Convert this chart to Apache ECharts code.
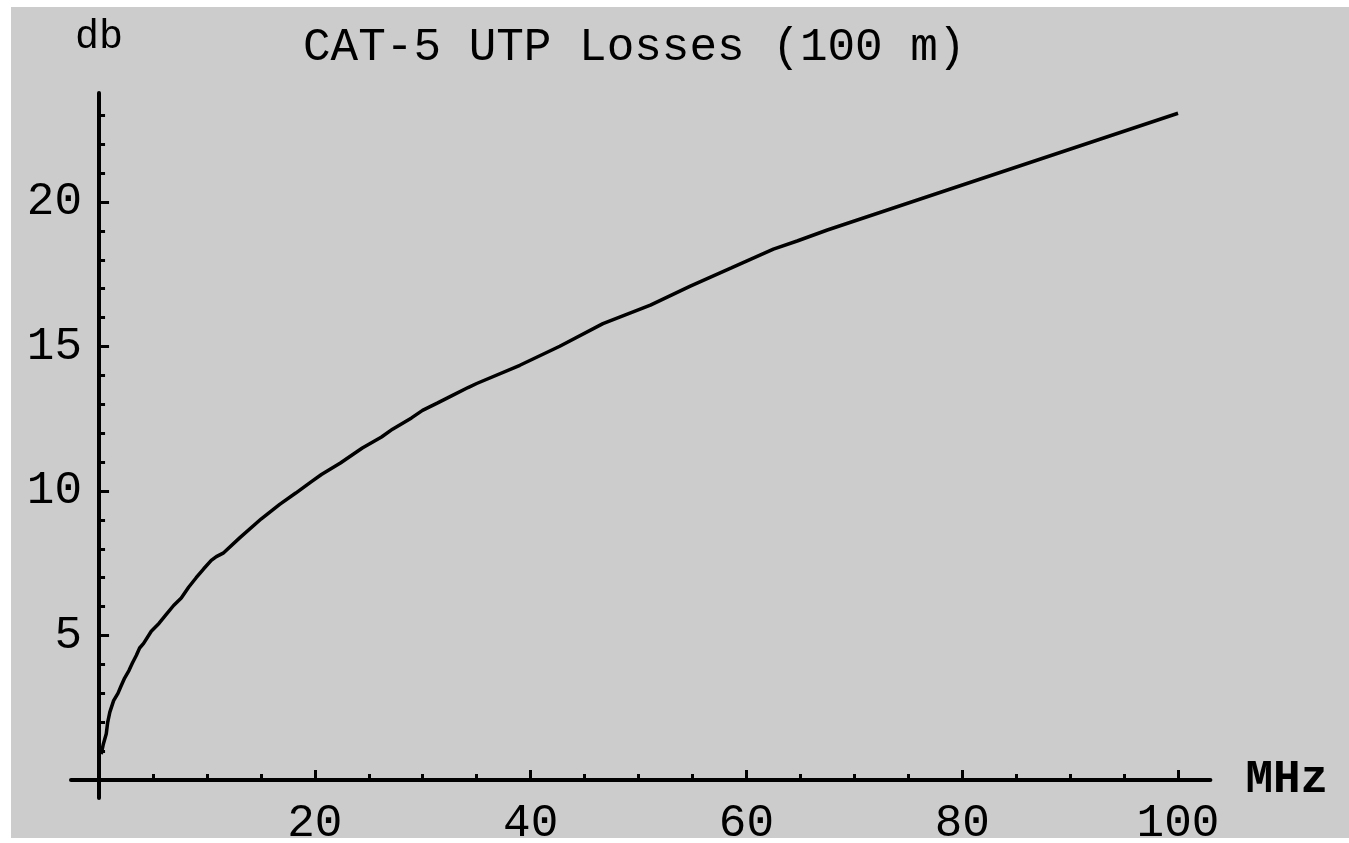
<!DOCTYPE html>
<html>
<head>
<meta charset="utf-8">
<script src="https://cdn.jsdelivr.net/npm/echarts@6/dist/echarts.min.js"></script>
<style>
  html, body { margin: 0; padding: 0; background: #ffffff; width: 1349px; height: 843px; overflow: hidden; }
  #chart { position: absolute; left: 11px; top: 7px; width: 1338px; height: 831px; }
</style>
</head>
<body>
<div id="chart"></div>
<script>
// Data
const freqMHz = [0.2, 0.4, 0.67, 0.8, 1.0, 1.35, 1.75, 2.06, 2.37, 2.77, 3.08, 3.45, 3.76, 4.13, 4.84, 5.55, 6.23, 6.91, 7.62, 8.3, 9.0, 9.7, 10.4, 10.87, 11.5, 13.03, 15.04, 16.74, 18.23, 19.62, 20.61, 22.37, 24.4, 26.18, 27.2, 28.96, 29.98, 31.34, 32.76, 34.2, 35.0, 39.0, 42.7, 46.7, 51.1, 54.8, 58.6, 62.5, 64.7, 67.5, 78.9, 100];
const lossDb = [0.9, 1.25, 1.6, 2.0, 2.35, 2.75, 3.0, 3.27, 3.53, 3.79, 4.04, 4.31, 4.57, 4.73, 5.15, 5.42, 5.73, 6.04, 6.30, 6.67, 7.0, 7.31, 7.6, 7.73, 7.85, 8.38, 9.04, 9.54, 9.93, 10.31, 10.57, 10.97, 11.49, 11.87, 12.14, 12.53, 12.79, 13.04, 13.31, 13.58, 13.72, 14.35, 15.01, 15.79, 16.43, 17.09, 17.72, 18.37, 18.65, 19.03, 20.45, 23.07];
const xMajorTicks = [20, 40, 60, 80, 100];
const xMinorTicks = [5, 10, 15, 25, 30, 35, 45, 50, 55, 65, 70, 75, 85, 90, 95];
const yMajorTicks = [5, 10, 15, 20];
const yMinorTicks = [1, 2, 3, 4, 6, 7, 8, 9, 11, 12, 13, 14, 16, 17, 18, 19, 21, 22, 23];
const titleText = 'CAT-5 UTP Losses (100 m)';
const xName = 'MHz';
const yName = 'db';

const FONT = '"Liberation Mono", "DejaVu Sans Mono", monospace';
const X_MIN = -2.6, X_MAX = 103;
const Y_MIN = -0.62, Y_MAX = 23.77;

const chart = echarts.init(document.getElementById('chart'), null, { renderer: 'canvas' });

const lineData = freqMHz.map((f, i) => [f, lossDb[i]]);

chart.setOption({
  backgroundColor: '#cccccc',
  animation: false,
  title: {
    text: titleText,
    left: 292,
    top: 18,
    padding: 0,
    textStyle: { fontFamily: FONT, fontSize: 46, fontWeight: 'normal', color: '#000' }
  },
  grid: { left: 60, top: 86, width: 1139.4, height: 705, containLabel: false, outerBoundsMode: 'none' },
  xAxis: [
    {
      type: 'value', min: X_MIN, max: X_MAX,
      name: xName, nameLocation: 'end', nameGap: 35,
      nameTextStyle: { fontFamily: FONT, fontSize: 46, fontWeight: 'bold', color: '#000', padding: [0, 0, 8, 0] },
      axisLine: { show: true, onZero: true, onZeroAxisIndex: 0, lineStyle: { color: '#000', width: 4 } },
      axisTick: { show: true, inside: true, length: 10, customValues: xMajorTicks, lineStyle: { color: '#000', width: 3 } },
      axisLabel: { show: true, customValues: xMajorTicks, margin: 3, fontFamily: FONT, fontSize: 46, color: '#000' },
      splitLine: { show: false }
    },
    {
      type: 'value', min: X_MIN, max: X_MAX, position: 'bottom',
      axisLine: { show: false, onZero: true, onZeroAxisIndex: 0 },
      axisTick: { show: true, inside: true, length: 6, customValues: xMinorTicks, lineStyle: { color: '#000', width: 3 } },
      axisLabel: { show: false },
      splitLine: { show: false }
    }
  ],
  yAxis: [
    {
      type: 'value', min: Y_MIN, max: Y_MAX,
      name: yName, nameLocation: 'end', nameGap: 36,
      nameTextStyle: { fontFamily: FONT, fontSize: 40, fontWeight: 'normal', color: '#000', align: 'center' },
      axisLine: { show: true, onZero: true, onZeroAxisIndex: 0, lineStyle: { color: '#000', width: 4 } },
      axisTick: { show: true, inside: true, length: 10, customValues: yMajorTicks, lineStyle: { color: '#000', width: 3 } },
      axisLabel: { show: true, customValues: yMajorTicks, margin: -11, fontFamily: FONT, fontSize: 46, color: '#000' },
      splitLine: { show: false }
    },
    {
      type: 'value', min: Y_MIN, max: Y_MAX, position: 'left',
      axisLine: { show: false, onZero: true, onZeroAxisIndex: 0 },
      axisTick: { show: true, inside: true, length: 6, customValues: yMinorTicks, lineStyle: { color: '#000', width: 3 } },
      axisLabel: { show: false },
      splitLine: { show: false }
    }
  ],
  series: [
    {
      type: 'line',
      xAxisIndex: 0,
      yAxisIndex: 0,
      data: lineData,
      showSymbol: false,
      smooth: false,
      lineStyle: { color: '#000', width: 3.5 },
      silent: true
    }
  ]
});
</script>
</body>
</html>
